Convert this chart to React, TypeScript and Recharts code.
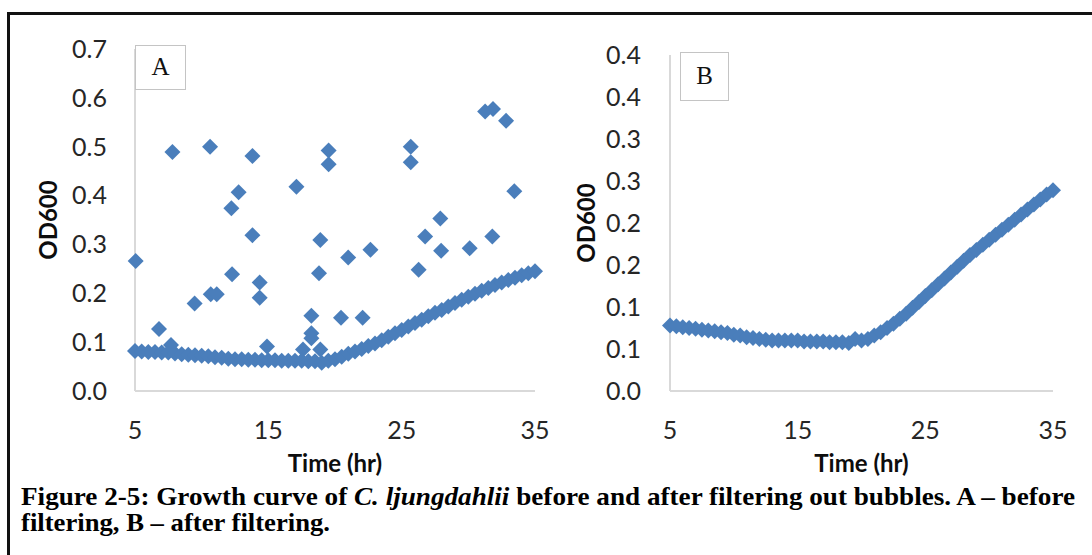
import { Scatter, ScatterChart, XAxis, YAxis } from "recharts";

// time points of the reactor readings (hr)
const timeHr = [
  5, 5.5, 6, 6.5, 7, 7.5, 8, 8.5, 9, 9.5, 10, 10.5, 11, 11.5, 12, 12.5, 13, 13.5, 14, 14.5,
  15, 15.5, 16, 16.5, 17, 17.5, 18, 18.5, 19, 19.5, 20, 20.5, 21, 21.5, 22, 22.5, 23, 23.5, 24, 24.5,
  25, 25.5, 26, 26.5, 27, 27.5, 28, 28.5, 29, 29.5, 30, 30.5, 31, 31.5, 32, 32.5, 33, 33.5, 34, 34.5, 35,
];

// A - raw OD600 trace (before filtering)
const odRaw = [
  0.082, 0.081, 0.080, 0.080, 0.079, 0.079, 0.077, 0.075, 0.074, 0.073, 0.072, 0.071, 0.069, 0.068, 0.066, 0.065, 0.065, 0.064, 0.064, 0.063,
  0.063, 0.063, 0.062, 0.062, 0.062, 0.062, 0.061, 0.061, 0.058, 0.062, 0.065, 0.070, 0.076, 0.081, 0.086, 0.092, 0.097, 0.104, 0.111, 0.118,
  0.125, 0.132, 0.139, 0.146, 0.153, 0.160, 0.166, 0.173, 0.180, 0.187, 0.193, 0.199, 0.205, 0.211, 0.217, 0.222, 0.227, 0.232, 0.237, 0.241, 0.245,
];

// A - bubble readings
const bubbleTime = [
  5.05, 6.8, 7.7, 7.81, 9.47, 10.63, 10.68, 11.13, 12.23, 12.28, 12.77, 13.81, 13.81, 14.35, 14.35, 14.9,
  17.11, 17.6, 18.23, 18.23, 18.23, 18.8, 18.9, 18.9, 19.52, 19.52, 20.45, 20.99, 22.07, 22.66,
  25.68, 25.68, 26.27, 26.76, 27.9, 27.96, 30.1, 31.26, 31.8, 31.85, 32.83, 33.45,
];
const bubbleOd = [
  0.266, 0.127, 0.094, 0.489, 0.179, 0.5, 0.198, 0.198, 0.374, 0.239, 0.407, 0.481, 0.319, 0.222, 0.191, 0.091,
  0.418, 0.085, 0.154, 0.118, 0.108, 0.241, 0.309, 0.085, 0.492, 0.464, 0.15, 0.273, 0.15, 0.289,
  0.5, 0.468, 0.248, 0.316, 0.353, 0.287, 0.292, 0.572, 0.316, 0.577, 0.553, 0.409,
];

// B - after filtering
const odFiltered = [
  0.078, 0.077, 0.076, 0.075, 0.074, 0.073, 0.072, 0.071, 0.070, 0.069, 0.067, 0.066, 0.064, 0.063, 0.062, 0.061, 0.060, 0.060, 0.060, 0.060,
  0.060, 0.059, 0.059, 0.059, 0.059, 0.058, 0.058, 0.058, 0.057, 0.062, 0.060, 0.062, 0.066, 0.070, 0.075, 0.080, 0.086, 0.092, 0.099, 0.106,
  0.113, 0.120, 0.127, 0.134, 0.141, 0.148, 0.155, 0.162, 0.168, 0.174, 0.180, 0.186, 0.192, 0.198, 0.204, 0.210, 0.216, 0.222, 0.228, 0.234, 0.239,
];

const xTicks = [5, 15, 25, 35];
const yTicksA = [0, 0.1, 0.2, 0.3, 0.4, 0.5, 0.6, 0.7];
const yLabelsA = ["0.0", "0.1", "0.2", "0.3", "0.4", "0.5", "0.6", "0.7"];
const yTicksB = [0, 0.05, 0.1, 0.15, 0.2, 0.25, 0.3, 0.35, 0.4];
const yLabelsB = ["0.0", "0.1", "0.1", "0.2", "0.2", "0.3", "0.3", "0.4", "0.4"];

const BLUE = "#4a7ebb";
const AXIS = "#d9d9d9";
const SERIF = "Liberation Serif, Times New Roman, serif";
const tickFont = { fontFamily: "Lato", fontSize: 25, fill: "#262626" };
const titleFont = { fontFamily: "Lato", fontSize: 24, fontWeight: 700, fill: "#0d0d0d" };
const captionFont = { fontFamily: SERIF, fontSize: 25, fontWeight: 700, fill: "#000" };

const Diamond = (p: any) => {
  const { cx, cy } = p;
  if (cx == null || cy == null) return null;
  const r = 8;
  return <path d={`M${cx},${cy - r}L${cx + r},${cy}L${cx},${cy + r}L${cx - r},${cy}Z`} fill={BLUE} />;
};

const rawPoints = timeHr.map((t, i) => ({ t, od: odRaw[i] }));
const bubblePoints = bubbleTime.map((t, i) => ({ t, od: bubbleOd[i] }));
const filteredPoints = timeHr.map((t, i) => ({ t, od: odFiltered[i] }));

const PanelBox = ({ left, top, w, h, text }: { left: number; top: number; w: number; h: number; text: string }) => (
  <div
    style={{
      position: "absolute",
      left,
      top,
      width: w,
      height: h,
      boxSizing: "border-box",
      border: "1.5px solid #c4c4c4",
      background: "#fff",
      fontFamily: SERIF,
      fontSize: 25,
      lineHeight: `${h - 3}px`,
      textAlign: "center",
      color: "#111",
    }}
  >
    {text}
  </div>
);

const App = () => {
  return (
    <div style={{ position: "relative", width: 1092, height: 555, background: "#fff", overflow: "hidden" }}>
      <style>{`body{margin:0}`}</style>
      <div
        style={{
          position: "absolute",
          left: 7,
          top: 12,
          width: 1200,
          height: 600,
          borderTop: "3px solid #111",
          borderLeft: "3px solid #111",
        }}
      />

      <div style={{ position: "absolute", left: 0, top: 0 }}>
        <ScatterChart width={560} height={480} margin={{ top: 49, right: 25, bottom: 0, left: 0 }}>
          <XAxis
            type="number"
            dataKey="t"
            domain={[5, 35]}
            ticks={xTicks}
            height={89}
            axisLine={{ stroke: AXIS, strokeWidth: 2 }}
            tickLine={false}
            tickSize={0}
            tickMargin={30}
            tick={tickFont}
            label={{ value: "Time (hr)", position: "insideBottom", offset: 8, style: titleFont }}
          />
          <YAxis
            type="number"
            dataKey="od"
            domain={[0, 0.7]}
            ticks={yTicksA}
            tickFormatter={(v: number) => yLabelsA[yTicksA.indexOf(v)] ?? ""}
            width={135}
            axisLine={{ stroke: AXIS, strokeWidth: 2 }}
            tickLine={false}
            tickSize={0}
            tickMargin={28}
            tick={tickFont}
            label={{ value: "OD600", angle: -90, position: "insideLeft", offset: 48, style: { ...titleFont, textAnchor: "middle" } }}
          />
          <Scatter data={rawPoints} shape={Diamond} isAnimationActive={false} />
          <Scatter data={bubblePoints} shape={Diamond} isAnimationActive={false} />
        </ScatterChart>
      </div>

      <div style={{ position: "absolute", left: 540, top: 0 }}>
        <ScatterChart width={540} height={480} margin={{ top: 55, right: 27, bottom: 0, left: 0 }}>
          <XAxis
            type="number"
            dataKey="t"
            domain={[5, 35]}
            ticks={xTicks}
            height={89}
            axisLine={{ stroke: AXIS, strokeWidth: 2 }}
            tickLine={false}
            tickSize={0}
            tickMargin={30}
            tick={tickFont}
            label={{ value: "Time (hr)", position: "insideBottom", offset: 8, style: titleFont }}
          />
          <YAxis
            type="number"
            dataKey="od"
            domain={[0, 0.4]}
            ticks={yTicksB}
            tickFormatter={(v: number) => yLabelsB[yTicksB.indexOf(v)] ?? ""}
            width={130}
            axisLine={{ stroke: AXIS, strokeWidth: 2 }}
            tickLine={false}
            tickSize={0}
            tickMargin={29}
            tick={tickFont}
            label={{ value: "OD600", angle: -90, position: "insideLeft", offset: 46, style: { ...titleFont, textAnchor: "middle" } }}
          />
          <Scatter data={filteredPoints} shape={Diamond} isAnimationActive={false} />
        </ScatterChart>
      </div>

      <PanelBox left={135} top={45} w={51} h={45} text="A" />
      <PanelBox left={680} top={52} w={49} h={49} text="B" />

      <svg width={1092} height={555} style={{ position: "absolute", left: 0, top: 0, pointerEvents: "none" }}>
        <text x={21} y={505} textLength={1054} lengthAdjust="spacingAndGlyphs" style={captionFont}>
          Figure 2-5: Growth curve of <tspan fontStyle="italic">C. ljungdahlii</tspan> before and after filtering out bubbles. A – before
        </text>
        <text x={21} y={531} textLength={309} lengthAdjust="spacingAndGlyphs" style={captionFont}>
          filtering, B – after filtering.
        </text>
      </svg>
    </div>
  );
};

export default App;
